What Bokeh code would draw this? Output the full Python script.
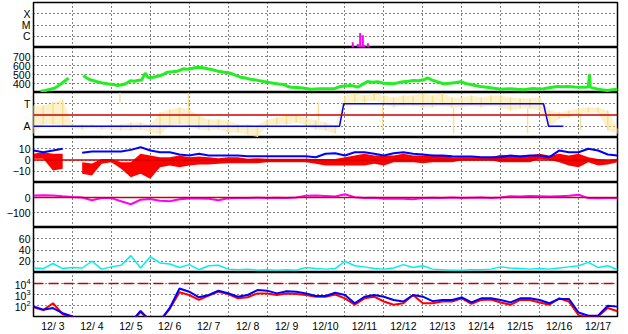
import numpy as np
from bokeh.plotting import figure
from bokeh.layouts import column
from bokeh.models import FixedTicker, Grid, Span, Range1d, CustomJSTickFormatter
from bokeh.embed import file_html
from bokeh.resources import INLINE

nan = float("nan")

# ---------------- data (time = day of December, UT) ----------------
T6 = np.arange(3.0, 18.0001, 0.25)          # 6-hourly samples

day_labels = ["12/ 3", "12/ 4", "12/ 5", "12/ 6", "12/ 7", "12/ 8", "12/ 9", "12/10",
              "12/11", "12/12", "12/13", "12/14", "12/15", "12/16", "12/17"]
flare_classes = ["C", "M", "X"]

flare_t = [11.20, 11.33, 11.39, 11.46, 11.50, 11.59]
flare_flux = [3.0e-7, 2.1e-7, 1.9e-6, 1.2e-6, 1.7e-7, 2.4e-7]

speed_t = [3.18, 3.30, 3.44, 3.55, 3.62, 3.72, 3.82, 3.90, 3.93, 4.02,
           4.05, 4.28, 4.37, 4.46, 4.55, 4.64, 4.77, 4.90, 5.03, 5.16,
           5.31, 5.40, 5.49, 5.60, 5.67, 5.78, 5.85, 5.88, 5.93, 6.01,
           6.13, 6.26, 6.35, 6.44, 6.57, 6.70, 6.85, 6.95, 7.03, 7.21,
           7.35, 7.47, 7.60, 7.73, 7.90, 8.06, 8.20, 8.32, 8.45, 8.57,
           8.75, 8.91, 9.05, 9.16, 9.30, 9.42, 9.52, 9.60, 9.75, 9.86,
           10.00, 10.12, 10.25, 10.37, 10.55, 10.71, 10.80, 10.89, 11.00, 11.14,
           11.25, 11.32, 11.45, 11.58, 11.70, 11.84, 11.99, 12.12, 12.25, 12.38,
           12.50, 12.63, 12.76, 12.88, 13.05, 13.12, 13.20, 13.27, 13.40, 13.53,
           13.71, 13.85, 13.97, 14.10, 14.23, 14.35, 14.48, 14.60, 14.74, 14.87,
           15.00, 15.12, 15.25, 15.42, 15.59, 15.72, 15.84, 15.97, 16.10, 16.28,
           16.46, 16.60, 16.72, 16.90, 17.13, 17.25, 17.28, 17.30, 17.49, 17.60,
           17.74, 17.87, 18.00]
speed_v = [315, 322, 337, 350, 370, 400, 433, 460, nan, 441,
           nan, 489, 460, 441, 430, 419, 405, 397, 390, 378,
           389, 405, 430, 425, 433, 440, 500, 514, 470, 463,
           475, 489, 505, 526, 530, 537, 563, 558, 563, 581,
           575, 563, 552, 537, 525, 514, 490, 470, 460, 448,
           435, 422, 412, 403, 395, 389, 370, 359, 355, 352,
           345, 337, 340, 341, 342, 341, 355, 367, 372, 378,
           370, 359, 390, 422, 415, 419, 403, 400, 397, 410,
           419, 425, 433, 430, 445, 463, 445, 433, 415, 397,
           403, 410, 419, 400, 389, 378, 367, 360, 352, 345,
           337, 340, 341, 335, 330, 338, 344, 340, 341, 355,
           367, 365, 367, 362, 359, 360, 500, 360, 337, 330,
           322, 330, 337]

# IMF azimuth (deg) spread, 6-hourly low / high
phi_lo = [77, 149, 149, 141, 125, 109, 125, 109,
          109, 101, 101, 109, 85, 69, 141, 149,
          141, 109, 101, 109, 85, 85, 69, 45,
          141, 149, 149, 165, 141, 109, 101, 77,
          317, 325, 325, 341, 317, 285, 301, 301,
          285, 285, 301, 285, 285, 301, 285, 301,
          285, 261, 277, 277, 261, 125, 197, 205,
          237, 245, 245, 101, 77]
phi_hi = [301, 301, 325, 349, 149, 149, 149, 141,
          149, 149, 165, 165, 149, 245, 269, 285,
          269, 221, 189, 189, 181, 149, 149, 141,
          189, 205, 221, 221, 205, 181, 165, 141,
          381, 397, 381, 397, 381, 365, 381, 381,
          397, 381, 397, 365, 365, 381, 365, 381,
          381, 365, 357, 357, 365, 261, 245, 261,
          277, 285, 285, 261, 117]
spike_t = [5.22, 6.98, 10.32, 11.97, 13.79, 15.69, 17.05]
spike_lo = [325, 269, 181, 101, 77, 77, 101]
spike_hi = [405, 405, 325, 317, 285, 277, 237]
sector_t = [3.0, 10.86, 10.97, 16.10, 16.23, 16.61]
sector_v = [135, 135, 315, 315, 135, 135]

bt = [8.4, 6.9, 8.4, 10, nan, 6.4, 7.5, 7.5,
      7.5, 7.5, 9, 11.4, 8.4, 6.9, 6.9, 4.9,
      4, 5.5, 4, 4, 4, 4, 3.4, 3.4,
      3.4, 3.4, 3.4, 3.4, 3.4, 2.5, 5.5, 6,
      4, 6.9, 6.9, 5.5, 4, 6, 6.9, 5.5,
      4.9, 4, 4, 3.4, 3.1, 3.1, 2.5, 2.5,
      2.5, 4, 3.1, 4, 4, 2.5, 8.4, 6.9,
      6.9, 10, 8.4, 4.9, 4]
bz_lo = [1.1, 1.1, -9.3, -7.8, nan, -12.3, -13.8, -3.4,
         -2, -7.8, -15.3, -12.3, -16.7, -6.4, -4.9, -6.4,
         -4.9, -4, -4, -3.4, -2.8, -2.8, -2.8, -2.8,
         -2, -2, -2, -2, -2, -3.4, -4.9, -4.9,
         -4.9, -4.9, -4.9, -3.4, -4.9, -2, -2, -2,
         -2.8, -2, -2, -2, -0.5, -0.5, -0.5, -0.5,
         -2, -2, -2, -2, 1, -0.1, -2, -4.9,
         -6.4, -2, -4.9, -4, -2]
bz_hi = [5.5, 6.9, 5.5, 5.5, nan, -2, -3, 1,
         1, -2, -2, 5.5, 4, 2.5, 2.5, 4,
         2.5, 3.1, 2.5, 1.6, 2.5, 2.5, 1.1, 1.6,
         1.1, 1.1, 1.1, 1.1, 1.1, 1, 1, 1,
         2.5, 4, 5.5, 4, 4, 4, 5.5, 4,
         4, 4.6, 4, 2.5, 2.5, 2.5, 2.5, 2.5,
         4.6, 4, 4, 4, 5.5, 4, 5.5, 4,
         5.5, 2.5, 1, 0, 1]

dst = [13, 15, 14, 8, 3, 0, -18, -3,
       -4, -25, -45, -15, -10, -22, -25, -12,
       -6, -7, -9, -18, -5, -3, -3, -2,
       -3, -2, -3, 0, 12, 13, 10, 7,
       22, 2, -3, -2, -8, -9, -8, -12,
       -3, -2, -4, 0, -3, -1, 0, -3,
       0, 9, 7, 10, 8, 6, 9, 12,
       18, -4, -5, -4, -3]

cyan_v = [8, 7, 16, 7, 9, 8, 20, 6,
          10, 13, 30, 8, 28, 17, 15, 9,
          14, 5, 12, 13, 6, 5, 6, 4,
          5, 4, 5, 4, 9, 7, 6, 7,
          20, 12, 10, 7, 6, 8, 14, 9,
          12, 6, 5, 4, 4, 5, 5, 6,
          10, 8, 7, 6, 7, 6, 8, 10,
          12, 18, 9, 12, 5]

flux_blue = [83, 42, 59, 20, 10, 3, 3, 3,
             3, 3, 3, 32, 4, 4, 60, 3500,
             1800, 560, 900, 2200, 1300, 630, 900, 2500,
             2240, 1260, 2000, 1800, 1260, 740, 740, 1450,
             900, 160, 630, 900, 630, 320, 230, 900,
             630, 250, 320, 320, 540, 190, 450, 450,
             320, 190, 450, 450, 320, 160, 400, 400,
             23, 12, 12, 95, 79]
flux_red = [70, 38, 160, 16, 9, 3, 3, 3,
            3, 3, 3, 25, 4, 4, 50, 1600,
            900, 320, 800, 1800, 1100, 450, 560, 1260,
            1260, 900, 1260, 1100, 900, 630, 630, 1000,
            450, 117, 450, 630, 230, 117, 160, 890,
            160, 160, 230, 230, 450, 140, 320, 355,
            190, 117, 320, 320, 190, 117, 450, 230,
            13, 9, 10, 59, 30]

# ---------------- styling helpers ----------------
FONT = "Liberation Sans"
FS = "10.5px"
DARKRED = "#cc0000"
YELLOW = "#f6e08c"
day_lines = list(range(4, 18))
xr = Range1d(3, 18)


def panel(height, yr, ticks, ytype="linear", top=0, bottom=0, xaxis=False,
          overrides=None, formatter=None):
    p = figure(width=628, height=height, x_range=xr, y_range=yr, y_axis_type=ytype,
               output_backend="svg", toolbar_location=None,
               x_axis_location="below" if xaxis else None,
               min_border_left=33, min_border_right=11,
               min_border_top=top, min_border_bottom=bottom)
    p.outline_line_color = "black"
    p.outline_line_width = 1.5
    p.outline_line_alpha = 1
    p.background_fill_color = "white"
    p.border_fill_color = "white"
    ax = p.yaxis[0]
    ax.ticker = FixedTicker(ticks=ticks, minor_ticks=[])
    if overrides:
        ax.major_label_overrides = overrides
    if formatter is not None:
        ax.formatter = formatter
    ax.axis_line_color = None
    ax.major_tick_line_color = None
    ax.minor_tick_line_color = None
    ax.major_tick_out = 0
    ax.major_label_text_font = FONT
    ax.major_label_text_font_size = FS
    ax.major_label_text_color = "black"
    ax.major_label_standoff = 3
    p.ygrid.ticker = FixedTicker(ticks=ticks, minor_ticks=[])
    p.ygrid.grid_line_color = "black"
    p.ygrid.grid_line_dash = "1 3"
    p.ygrid.grid_line_width = 1
    p.xgrid.visible = False
    p.add_layout(Grid(dimension=0, ticker=FixedTicker(ticks=day_lines, minor_ticks=[]),
                      grid_line_color="black", grid_line_dash="1 3", grid_line_width=1))
    return p


def band(p, x, lo, hi, **kw):
    x = np.asarray(x, float); lo = np.asarray(lo, float); hi = np.asarray(hi, float)
    ok = ~(np.isnan(lo) | np.isnan(hi))
    start = None
    for i in range(len(x) + 1):
        good = i < len(x) and ok[i]
        if good and start is None:
            start = i
        elif not good and start is not None:
            p.varea(x=x[start:i], y1=lo[start:i], y2=hi[start:i], **kw)
            start = None


# 1. flares
p1 = panel(47, Range1d(1e-7, 1e-3), [1e-6, 1e-5, 1e-4], ytype="log", top=2,
           formatter=CustomJSTickFormatter(args=dict(names=flare_classes),
                                           code="return names[Math.round(Math.log10(tick)) + 6]"))
p1.segment(x0=flare_t, y0=[p1.y_range.start] * len(flare_t), x1=flare_t, y1=flare_flux,
           line_color="#ff00ff", line_width=2)

# 2. solar wind speed
p2 = panel(45, Range1d(300, 800), [400, 500, 600, 700])
p2.line(speed_t, speed_v, line_color="#22ee22", line_width=3)

# 3. IMF sector
p3 = panel(45, Range1d(45, 405), [135, 315], overrides={135: "A", 315: "T"})
band(p3, T6, phi_lo, phi_hi, color=YELLOW, alpha=0.45)
p3.segment(x0=T6, y0=phi_lo, x1=T6, y1=phi_hi, line_color=YELLOW, line_width=1.5, line_alpha=0.9)
p3.segment(x0=spike_t, y0=spike_lo, x1=spike_t, y1=spike_hi, line_color=YELLOW, line_width=1.5,
           line_alpha=0.9)
p3.add_layout(Span(location=225, dimension="width", line_color=DARKRED, line_width=1.5))
p3.line(sector_t, sector_v, line_color="#0000ff", line_width=1.5)

# 4. Bt / Bz
p4 = panel(45, Range1d(-20, 20), [-10, 0, 10])
band(p4, T6, bz_lo, bz_hi, color="#ff0000")
p4.add_layout(Span(location=0, dimension="width", line_color=DARKRED, line_width=1.5))
p4.line(T6, bt, line_color="#0000ff", line_width=2)

# 5. Dst
p5 = panel(45, Range1d(-200, 100), [-100, 0])
p5.add_layout(Span(location=0, dimension="width", line_color=DARKRED, line_width=1.5))
p5.line(T6, dst, line_color="#ff00ff", line_width=2)

# 6. cyan index
p6 = panel(45, Range1d(0, 80), [20, 40, 60])
p6.line(T6, cyan_v, line_color="#00eeee", line_width=1.5)

# 7. electron flux
p7 = panel(62, Range1d(10, 1e5), [100, 1000, 10000], ytype="log", bottom=17, xaxis=True)
p7.add_layout(Span(location=1e4, dimension="width", line_color=DARKRED, line_width=1.5,
                   line_dash="10 5"))
p7.line(T6, flux_red, line_color="#ff0000", line_width=2)
p7.line(T6, flux_blue, line_color="#0000ff", line_width=2)
xa = p7.xaxis[0]
xa.ticker = FixedTicker(ticks=[d + 0.5 for d in range(3, 18)], minor_ticks=[])
xa.formatter = CustomJSTickFormatter(args=dict(labels=day_labels),
                                     code="return labels[Math.round(tick - 3.5)]")
xa.axis_line_color = None
xa.major_tick_line_color = None
xa.minor_tick_line_color = None
xa.major_tick_out = 0
xa.major_label_text_font = FONT
xa.major_label_text_font_size = FS
xa.major_label_text_color = "black"
xa.major_label_standoff = 3

layout = column(p1, p2, p3, p4, p5, p6, p7, spacing=0)
open("out.html", "w").write(file_html(layout, INLINE))
